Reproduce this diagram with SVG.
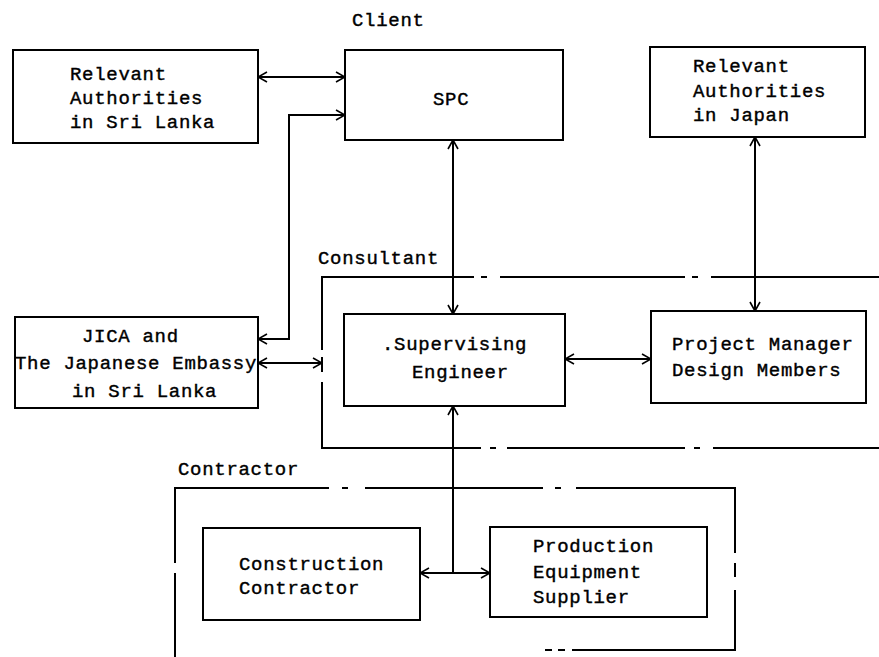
<svg xmlns="http://www.w3.org/2000/svg" width="879" height="657" viewBox="0 0 879 657">
<style>
.box{fill:none;stroke:#000;stroke-width:2}
.ln{fill:none;stroke:#000;stroke-width:2}
.c{fill:none;stroke:#000;stroke-width:2;marker-start:url(#ah);marker-end:url(#ah)}
.t{font-family:"Liberation Mono","Courier New",monospace;font-size:19px;letter-spacing:0.7px;fill:#000;stroke:#000;stroke-width:0.4}
</style>
<defs>
<marker id="ah" viewBox="0 0 12 12" refX="11" refY="6" markerWidth="12" markerHeight="12" markerUnits="userSpaceOnUse" orient="auto-start-reverse">
<path d="M2,1 L11,6 L2,11" fill="none" stroke="#000" stroke-width="1.6"/>
</marker>
</defs>
<rect width="879" height="657" fill="#fff"/>

<g id="client-label"><text class="t" x="352" y="26">Client</text></g>
<g id="consultant-label"><text class="t" x="318" y="264">Consultant</text></g>
<g id="contractor-label"><text class="t" x="178" y="475">Contractor</text></g>

<g id="consultant-group">
<path class="ln" d="M322,350 V277 H474 M481,277 H487 M500,277 H685 M692,277 H698 M711,277 H879"/>
<path class="ln" d="M322,357 V372 M322,382 V448 H481 M490,448 H496 M507,448 H685 M694,448 H700 M713,448 H879"/>
</g>

<g id="contractor-group">
<path class="ln" d="M175,563 V488 H329 M342,488 H348 M365,488 H543 M555,488 H561 M576,488 H735 V553 M735,563 V577 M735,590 V650 H572 M565,650 H558 M552,650 H545"/>
<path class="ln" d="M175,573 V657"/>
</g>

<g id="sl-authorities">
<rect class="box" x="13" y="50" width="245" height="93"/>
<text class="t" x="70" y="80">Relevant</text>
<text class="t" x="70" y="104">Authorities</text>
<text class="t" x="70" y="128">in Sri Lanka</text>
</g>

<g id="spc">
<rect class="box" x="345" y="50" width="218" height="90"/>
<text class="t" x="433" y="105">SPC</text>
</g>

<g id="jp-authorities">
<rect class="box" x="650" y="47" width="215" height="90"/>
<text class="t" x="693" y="72">Relevant</text>
<text class="t" x="693" y="97">Authorities</text>
<text class="t" x="693" y="121">in Japan</text>
</g>

<g id="jica">
<rect class="box" x="15" y="317" width="243" height="91"/>
<text class="t" x="82" y="342">JICA and</text>
<text class="t" x="15" y="369">The Japanese Embassy</text>
<text class="t" x="72" y="397">in Sri Lanka</text>
</g>

<g id="supervising">
<rect class="box" x="344" y="314" width="221" height="92"/>
<text class="t" x="382" y="350">.Supervising</text>
<text class="t" x="412" y="378">Engineer</text>
</g>

<g id="project-manager">
<rect class="box" x="651" y="311" width="215" height="92"/>
<text class="t" x="672" y="350">Project Manager</text>
<text class="t" x="672" y="376">Design Members</text>
</g>

<g id="construction-contractor">
<rect class="box" x="203" y="528" width="217" height="92"/>
<text class="t" x="239" y="570">Construction</text>
<text class="t" x="239" y="594">Contractor</text>
</g>

<g id="equipment-supplier">
<rect class="box" x="490" y="527" width="217" height="90"/>
<text class="t" x="533" y="552">Production</text>
<text class="t" x="533" y="578">Equipment</text>
<text class="t" x="533" y="603">Supplier</text>
</g>

<g id="connectors">
<path class="c" d="M258,77 H345"/>
<path class="c" d="M345,115 H289 V339 H258"/>
<path class="c" d="M258,363 H322"/>
<path class="c" d="M453,140 V314"/>
<path class="c" d="M755,137 V311"/>
<path class="c" d="M565,359 H651"/>
<path class="ln" d="M453,573 V406" style="marker-end:url(#ah)"/>
<path class="c" d="M420,573 H490"/>
</g>
</svg>
